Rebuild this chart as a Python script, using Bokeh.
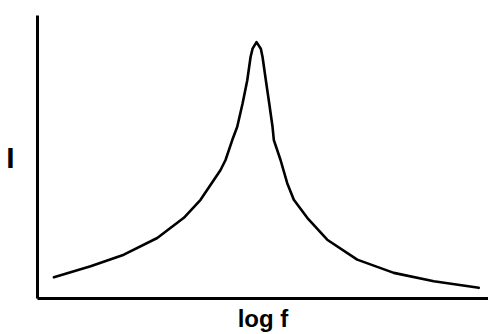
from bokeh.plotting import figure
from bokeh.models import Range1d
from bokeh.embed import file_html
from bokeh.resources import INLINE

# Resonance curve (log f in 0-100 units, I in 0-100 units)
log_f = [3.83, 11.95, 19.31, 26.70, 32.59, 36.28, 40.71, 41.81, 43.30, 44.40,
         45.58, 46.62, 47.35, 47.79, 48.67, 49.62, 50.00, 50.73, 51.48, 52.21,
         52.50, 53.98, 55.46, 56.92, 59.89, 64.31, 70.95, 79.05, 87.90, 97.85]
current = [7.50, 11.37, 15.49, 21.37, 28.52, 34.86, 45.42, 48.94, 55.99, 60.67,
           68.91, 77.11, 85.32, 88.27, 90.60, 88.27, 85.32, 77.11, 68.91, 60.67,
           55.99, 48.94, 40.74, 34.86, 28.52, 20.77, 13.73, 9.05, 6.09, 3.77]
x_label = "log f"
y_label = "I"

p = figure(width=488, height=334, output_backend="svg", toolbar_location=None,
           x_range=Range1d(0.2, 100), y_range=Range1d(0, 100),
           min_border_left=37, min_border_right=0, min_border_top=15, min_border_bottom=35)
p.grid.visible = False
p.outline_line_color = None
p.background_fill_color = "white"
p.border_fill_color = "white"

for ax in (p.xaxis[0], p.yaxis[0]):
    ax.major_tick_line_color = None
    ax.minor_tick_line_color = None
    ax.major_tick_out = 0
    ax.major_tick_in = 0
    ax.major_label_text_font_size = "0px"
    ax.major_label_text_color = None
    ax.axis_line_width = 3
    ax.axis_line_color = "black"
    ax.major_label_standoff = 0
    ax.axis_label_text_font = "Liberation Sans"
    ax.axis_label_text_font_style = "bold"
    ax.axis_label_text_color = "black"

p.xaxis[0].axis_label = x_label
p.xaxis[0].axis_label_text_font_size = "24px"
p.xaxis[0].axis_label_standoff = 2
p.yaxis[0].axis_label = y_label
p.yaxis[0].axis_label_text_font_size = "30px"
p.yaxis[0].axis_label_orientation = "horizontal"
p.yaxis[0].axis_label_standoff = 19

p.line(log_f, current, line_width=2.6, line_color="black", line_join="round", line_cap="round")

open("out.html", "w").write(file_html(p, INLINE))
